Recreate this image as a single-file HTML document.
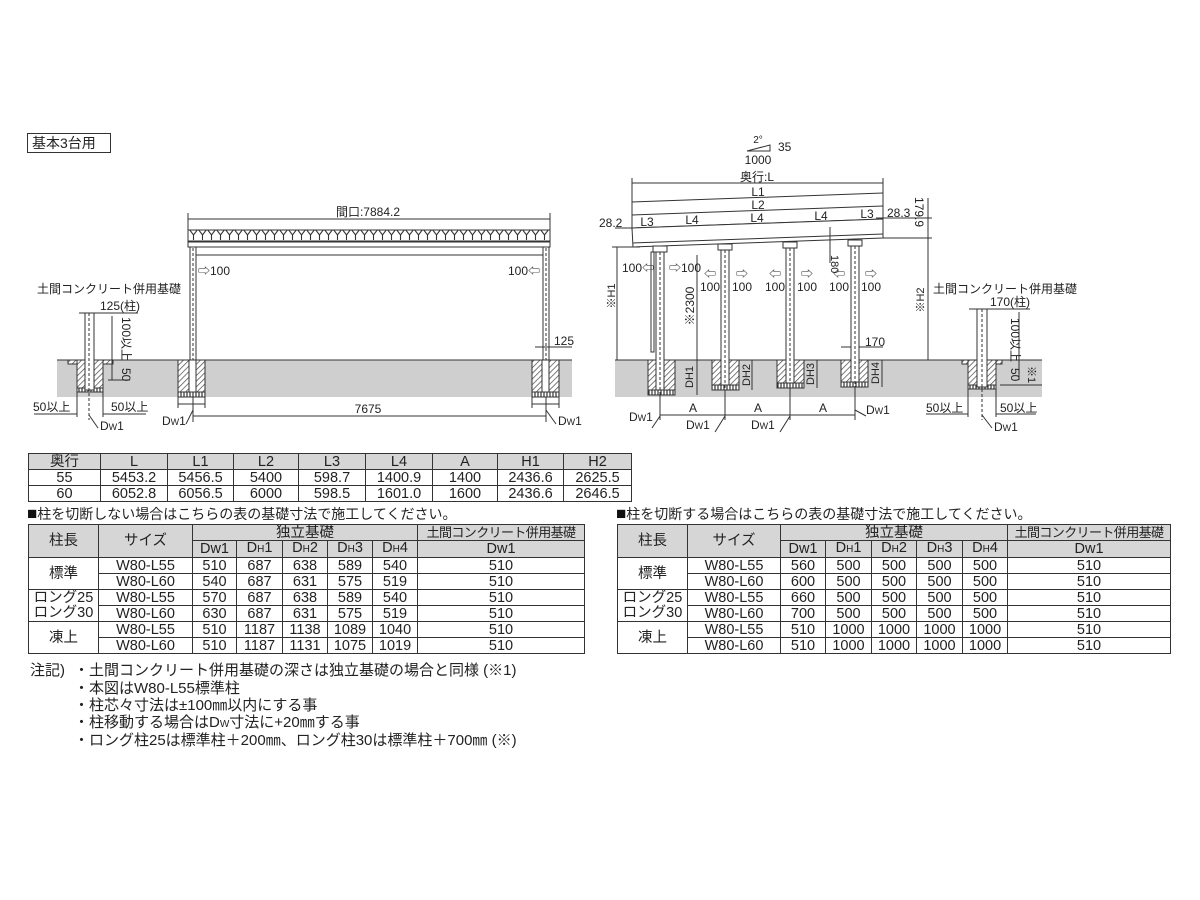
<!DOCTYPE html>
<html><head><meta charset="utf-8">
<style>
*{margin:0;padding:0;box-sizing:border-box}
body{width:1200px;height:900px;background:#fff;position:relative;overflow:hidden;font-family:"Liberation Sans","Noto Sans CJK JP",sans-serif;color:#222}
svg{position:absolute;left:0;top:0}
table{position:absolute;border-collapse:collapse;table-layout:fixed;font-size:14.5px;text-align:center}
td{border:1px solid #333;padding:0;line-height:14px;height:16px;white-space:nowrap;overflow:hidden}
.h{background:#d6d6d6}
.dm{font-size:13px;letter-spacing:-0.6px}
small{font-size:10px}
.t{position:absolute;font-size:14px;white-space:nowrap;line-height:16px}
.n{position:absolute;font-size:15px;white-space:nowrap;line-height:17px}
.sq{font-size:17px;color:#111}
</style></head><body>
<svg width="1200" height="900" font-family="Liberation Sans, Noto Sans CJK JP, sans-serif" font-size="12" fill="#222">
<defs>
<pattern id="hat" width="4" height="4" patternUnits="userSpaceOnUse" patternTransform="rotate(45)"><rect width="4" height="4" fill="#fff"/><line x1="0" y1="0" x2="0" y2="4" stroke="#444" stroke-width="1.4"/></pattern>
<pattern id="zig" width="9" height="12" patternUnits="userSpaceOnUse"><rect width="9" height="12" fill="#fff"/><path d="M0 1 L4.5 7 L9 1 M4.5 7 V12 M0 1H9" stroke="#333" stroke-width="1.1" fill="none"/></pattern>
<pattern id="grv" width="3" height="5" patternUnits="userSpaceOnUse"><rect width="3" height="5" fill="#fff"/><line x1="1" y1="0" x2="1" y2="5" stroke="#333" stroke-width="1.2"/></pattern>
</defs>
<rect x="27.5" y="133.5" width="83" height="19" fill="none" stroke="#333"/>
<text x="32" y="148" font-size="14">基本3台用</text>

<rect x="57" y="360" width="515" height="37" fill="#cfcfcf"/>
<rect x="615" y="360" width="427" height="37" fill="#cfcfcf"/>
<g stroke="#333" fill="none" stroke-width="1">
<line x1="57" y1="360" x2="572" y2="360"/>
<line x1="615" y1="360" x2="1042" y2="360"/>
</g>

<!-- LEFT ELEVATION -->
<g stroke="#333" stroke-width="1" fill="none">
<line x1="188" y1="219" x2="550" y2="219"/><line x1="188" y1="213" x2="188" y2="232"/><line x1="550" y1="213" x2="550" y2="232"/>
<rect x="188" y="230" width="362" height="12" fill="url(#zig)"/>
<rect x="188" y="242" width="362" height="5" fill="#fff"/>
<line x1="193" y1="255" x2="546" y2="255"/>
<rect x="190" y="247" width="6" height="113" fill="#fff"/>
<rect x="543" y="247" width="6" height="113" fill="#fff"/>
<line x1="193" y1="248" x2="193" y2="360" stroke-dasharray="3,2"/>
<line x1="546" y1="248" x2="546" y2="360" stroke-dasharray="3,2"/>
<rect x="178" y="360" width="27" height="32" fill="url(#hat)"/>
<rect x="532" y="360" width="27" height="32" fill="url(#hat)"/>
<rect x="178" y="392" width="27" height="5" fill="url(#grv)"/>
<rect x="532" y="392" width="27" height="5" fill="url(#grv)"/>
<rect x="189" y="360" width="7" height="32" fill="#fff"/>
<rect x="542" y="360" width="7" height="32" fill="#fff"/>
<line x1="535" y1="347" x2="572" y2="347"/>
<line x1="178" y1="397" x2="178" y2="408"/><line x1="205" y1="397" x2="205" y2="408"/><line x1="178" y1="404" x2="205" y2="404"/>
<line x1="532" y1="397" x2="532" y2="408"/><line x1="559" y1="397" x2="559" y2="408"/><line x1="532" y1="404" x2="559" y2="404"/>
<line x1="193" y1="397" x2="193" y2="422"/><line x1="546" y1="397" x2="546" y2="422"/>
<line x1="193" y1="416" x2="546" y2="416"/>
<line x1="193" y1="410" x2="186" y2="424"/><line x1="546" y1="410" x2="556" y2="424"/>
</g>
<text x="368" y="216" text-anchor="middle">間口:7884.2</text>
<text x="198" y="275">⇨100</text>
<text x="540" y="275" text-anchor="end">100⇦</text>
<text x="554" y="345">125</text>
<text x="368" y="413" text-anchor="middle">7675</text>
<text x="162" y="425">D<tspan font-size="9">W</tspan>1</text>
<text x="558" y="425">D<tspan font-size="9">W</tspan>1</text>

<text x="37" y="293">土間コンクリート併用基礎</text>
<text x="100" y="310">125(柱)</text>
<g stroke="#333" fill="none">
<line x1="79" y1="313" x2="138" y2="313"/>
<rect x="68" y="360" width="45" height="4" fill="url(#hat)"/>
<rect x="77" y="360" width="26" height="30" fill="url(#hat)"/>
<rect x="77" y="388" width="26" height="4" fill="url(#grv)"/>
<rect x="85" y="313" width="9" height="77" fill="#fff"/>
<line x1="89" y1="313" x2="89" y2="420" stroke-dasharray="3,2"/>
<line x1="112" y1="316" x2="112" y2="380"/>
<line x1="108" y1="380" x2="130" y2="380"/>
<line x1="77" y1="390" x2="77" y2="417"/><line x1="103" y1="390" x2="103" y2="417"/>
<line x1="34" y1="414" x2="77" y2="414"/><line x1="103" y1="414" x2="146" y2="414"/>
<line x1="89" y1="415" x2="98" y2="428"/>
</g>
<text transform="translate(122,317) rotate(90)">100以上</text>
<text transform="translate(122,368) rotate(90)">50</text>
<text x="33" y="411">50以上</text>
<text x="111" y="411">50以上</text>
<text x="100" y="430">D<tspan font-size="9">W</tspan>1</text>

<!-- RIGHT ELEVATION -->
<text x="758" y="143" text-anchor="middle" font-size="10">2°</text>
<g stroke="#333" fill="none">
<path d="M747 151 L770 145 V151 Z"/>
<line x1="632" y1="183" x2="883" y2="183"/><line x1="632" y1="178" x2="632" y2="230"/><line x1="883" y1="178" x2="883" y2="218"/>
<line x1="632" y1="202" x2="883" y2="193"/>
<line x1="632" y1="215" x2="883" y2="206"/>
<line x1="632" y1="228" x2="883" y2="219"/>
<polygon points="632,228 883,219 883,238 633,247" fill="#fff"/>
<line x1="633" y1="243" x2="883" y2="234"/>
<line x1="876" y1="218" x2="932" y2="218"/><line x1="883" y1="238" x2="932" y2="238"/>
<line x1="928" y1="198" x2="928" y2="360"/>
<line x1="617" y1="247" x2="617" y2="360"/><line x1="612" y1="247" x2="640" y2="247"/>
<line x1="697" y1="255" x2="697" y2="395"/>
<line x1="830" y1="227" x2="830" y2="263"/>
<line x1="841" y1="347" x2="883" y2="347"/>
<line x1="660" y1="415" x2="855" y2="415"/>
<line x1="660" y1="395" x2="660" y2="420"/><line x1="725" y1="390" x2="725" y2="420"/><line x1="790" y1="388" x2="790" y2="420"/><line x1="855" y1="387" x2="855" y2="420"/>
<line x1="660" y1="416" x2="652" y2="428"/><line x1="725" y1="416" x2="715" y2="432"/><line x1="790" y1="416" x2="780" y2="432"/><line x1="855" y1="410" x2="866" y2="416"/>
<line x1="615" y1="228" x2="632" y2="228"/>
<line x1="752" y1="360" x2="752" y2="390"/><line x1="817" y1="360" x2="817" y2="388"/><line x1="882" y1="360" x2="882" y2="387"/>
</g>
<g stroke="#333" fill="#fff">
<rect x="648" y="360" width="27" height="30" fill="url(#hat)"/><rect x="648" y="390" width="27" height="5" fill="url(#grv)"/>
<rect x="712" y="360" width="27" height="25" fill="url(#hat)"/><rect x="712" y="385" width="27" height="5" fill="url(#grv)"/>
<rect x="777" y="360" width="27" height="23" fill="url(#hat)"/><rect x="777" y="383" width="27" height="5" fill="url(#grv)"/>
<rect x="841" y="360" width="27" height="22" fill="url(#hat)"/><rect x="841" y="382" width="27" height="5" fill="url(#grv)"/>
<rect x="656" y="247" width="8" height="143"/>
<rect x="721" y="245" width="8" height="140"/>
<rect x="786" y="243" width="8" height="140"/>
<rect x="851" y="241" width="8" height="141"/>
<rect x="653" y="246" width="14" height="6"/><rect x="718" y="244" width="14" height="6"/><rect x="783" y="242" width="14" height="6"/><rect x="848" y="240" width="14" height="6"/>
<rect x="651" y="252" width="3" height="100"/>
</g>
<g stroke="#333" stroke-dasharray="3,2"><line x1="660" y1="252" x2="660" y2="395"/><line x1="725" y1="250" x2="725" y2="390"/><line x1="790" y1="248" x2="790" y2="388"/><line x1="855" y1="246" x2="855" y2="387"/></g>
<text x="778" y="151">35</text>
<text x="758" y="164" text-anchor="middle">1000</text>
<text x="757" y="181" text-anchor="middle">奥行:L</text>
<text x="758" y="196" text-anchor="middle">L1</text>
<text x="758" y="209" text-anchor="middle">L2</text>
<text x="647" y="226" text-anchor="middle">L3</text>
<text x="692" y="224" text-anchor="middle">L4</text>
<text x="757" y="222" text-anchor="middle">L4</text>
<text x="821" y="220" text-anchor="middle">L4</text>
<text x="867" y="218" text-anchor="middle">L3</text>
<text x="599" y="227">28.2</text>
<text x="887" y="217">28.3</text>
<text transform="translate(915,197) rotate(90)">179.9</text>
<text transform="translate(615,296) rotate(-90)" text-anchor="middle" font-size="11">※H1</text>
<text transform="translate(924,300) rotate(-90)" text-anchor="middle" font-size="11">※H2</text>
<text transform="translate(694,306) rotate(-90)" text-anchor="middle">※2300</text>
<text transform="translate(831,255) rotate(90)" font-size="11">180</text>
<text x="622" y="272">100⇦</text>
<text x="669" y="272">⇨100</text>
<g font-size="12"><text x="710" y="278" text-anchor="middle">⇦</text><text x="742" y="278" text-anchor="middle">⇨</text>
<text x="775" y="278" text-anchor="middle">⇦</text><text x="807" y="278" text-anchor="middle">⇨</text>
<text x="839" y="278" text-anchor="middle">⇦</text><text x="871" y="278" text-anchor="middle">⇨</text>
<text x="710" y="291" text-anchor="middle">100</text><text x="742" y="291" text-anchor="middle">100</text>
<text x="775" y="291" text-anchor="middle">100</text><text x="807" y="291" text-anchor="middle">100</text>
<text x="839" y="291" text-anchor="middle">100</text><text x="871" y="291" text-anchor="middle">100</text></g>
<text x="865" y="346">170</text>
<text transform="translate(693,377) rotate(-90)" text-anchor="middle" font-size="11">DH1</text>
<text transform="translate(750,375) rotate(-90)" text-anchor="middle" font-size="11">DH2</text>
<text transform="translate(814,374) rotate(-90)" text-anchor="middle" font-size="11">DH3</text>
<text transform="translate(879,373) rotate(-90)" text-anchor="middle" font-size="11">DH4</text>
<text x="693" y="412" text-anchor="middle">A</text><text x="758" y="412" text-anchor="middle">A</text><text x="823" y="412" text-anchor="middle">A</text>
<text x="629" y="421">D<tspan font-size="9">W</tspan>1</text>
<text x="686" y="429">D<tspan font-size="9">W</tspan>1</text>
<text x="751" y="429">D<tspan font-size="9">W</tspan>1</text>
<text x="866" y="414">D<tspan font-size="9">W</tspan>1</text>

<text x="933" y="293">土間コンクリート併用基礎</text>
<text x="990" y="306">170(柱)</text>
<g stroke="#333" fill="none">
<line x1="969" y1="309" x2="1030" y2="309"/>
<rect x="962" y="360" width="40" height="4" fill="url(#hat)"/>
<rect x="968" y="360" width="28" height="27" fill="url(#hat)"/>
<rect x="968" y="385" width="28" height="4" fill="url(#grv)"/>
<rect x="977" y="309" width="10" height="78" fill="#fff"/>
<line x1="982" y1="309" x2="982" y2="420" stroke-dasharray="3,2"/>
<line x1="1019" y1="312" x2="1019" y2="380"/>
<line x1="1000" y1="385" x2="1042" y2="385"/>
<line x1="968" y1="389" x2="968" y2="417"/><line x1="996" y1="389" x2="996" y2="417"/>
<line x1="926" y1="414" x2="968" y2="414"/><line x1="996" y1="414" x2="1036" y2="414"/>
<line x1="982" y1="415" x2="992" y2="428"/>
</g>
<text transform="translate(1011,318) rotate(90)">100以上</text>
<text transform="translate(1011,368) rotate(90)">50</text>
<text transform="translate(1028,366) rotate(90)" font-size="11">※1</text>
<text x="926" y="412">50以上</text>
<text x="1000" y="412">50以上</text>
<text x="994" y="431">D<tspan font-size="9">W</tspan>1</text>
</svg>

<table style="left:28px;top:453px;width:603px">
<colgroup><col style="width:72px"><col style="width:67px"><col style="width:66px"><col style="width:65px"><col style="width:67px"><col style="width:67px"><col style="width:65px"><col style="width:66px"><col style="width:68px"></colgroup>
<tr class="h"><td>奥行</td><td>L</td><td>L1</td><td>L2</td><td>L3</td><td>L4</td><td>A</td><td>H1</td><td>H2</td></tr>
<tr><td>55</td><td>5453.2</td><td>5456.5</td><td>5400</td><td>598.7</td><td>1400.9</td><td>1400</td><td>2436.6</td><td>2625.5</td></tr>
<tr><td>60</td><td>6052.8</td><td>6056.5</td><td>6000</td><td>598.5</td><td>1601.0</td><td>1600</td><td>2436.6</td><td>2646.5</td></tr>
</table>

<div class="t" style="left:27px;top:506px"><span class="sq">■</span>柱を切断しない場合はこちらの表の基礎寸法で施工してください。</div>
<div class="t" style="left:616px;top:506px"><span class="sq">■</span>柱を切断する場合はこちらの表の基礎寸法で施工してください。</div>

<table style="left:28px;top:524px;width:556px">
<colgroup><col style="width:70px"><col style="width:94px"><col style="width:44px"><col style="width:46px"><col style="width:45px"><col style="width:45px"><col style="width:45px"><col style="width:167px"></colgroup>
<tr class="h"><td rowspan="2">柱長</td><td rowspan="2">サイズ</td><td colspan="5">独立基礎</td><td class="dm">土間コンクリート併用基礎</td></tr>
<tr class="h"><td>Dw1</td><td>D<small>H</small>1</td><td>D<small>H</small>2</td><td>D<small>H</small>3</td><td>D<small>H</small>4</td><td>Dw1</td></tr>
<tr><td rowspan="2">標準</td><td>W80-L55</td><td>510</td><td>687</td><td>638</td><td>589</td><td>540</td><td>510</td></tr>
<tr><td>W80-L60</td><td>540</td><td>687</td><td>631</td><td>575</td><td>519</td><td>510</td></tr>
<tr><td rowspan="2" style="line-height:15px">ロング25<br>ロング30</td><td>W80-L55</td><td>570</td><td>687</td><td>638</td><td>589</td><td>540</td><td>510</td></tr>
<tr><td>W80-L60</td><td>630</td><td>687</td><td>631</td><td>575</td><td>519</td><td>510</td></tr>
<tr><td rowspan="2">凍上</td><td>W80-L55</td><td>510</td><td>1187</td><td>1138</td><td>1089</td><td>1040</td><td>510</td></tr>
<tr><td>W80-L60</td><td>510</td><td>1187</td><td>1131</td><td>1075</td><td>1019</td><td>510</td></tr>
</table>

<table style="left:617px;top:524px;width:553px">
<colgroup><col style="width:70px"><col style="width:93px"><col style="width:45px"><col style="width:46px"><col style="width:45px"><col style="width:46px"><col style="width:45px"><col style="width:163px"></colgroup>
<tr class="h"><td rowspan="2">柱長</td><td rowspan="2">サイズ</td><td colspan="5">独立基礎</td><td class="dm">土間コンクリート併用基礎</td></tr>
<tr class="h"><td>Dw1</td><td>D<small>H</small>1</td><td>D<small>H</small>2</td><td>D<small>H</small>3</td><td>D<small>H</small>4</td><td>Dw1</td></tr>
<tr><td rowspan="2">標準</td><td>W80-L55</td><td>560</td><td>500</td><td>500</td><td>500</td><td>500</td><td>510</td></tr>
<tr><td>W80-L60</td><td>600</td><td>500</td><td>500</td><td>500</td><td>500</td><td>510</td></tr>
<tr><td rowspan="2" style="line-height:15px">ロング25<br>ロング30</td><td>W80-L55</td><td>660</td><td>500</td><td>500</td><td>500</td><td>500</td><td>510</td></tr>
<tr><td>W80-L60</td><td>700</td><td>500</td><td>500</td><td>500</td><td>500</td><td>510</td></tr>
<tr><td rowspan="2">凍上</td><td>W80-L55</td><td>510</td><td>1000</td><td>1000</td><td>1000</td><td>1000</td><td>510</td></tr>
<tr><td>W80-L60</td><td>510</td><td>1000</td><td>1000</td><td>1000</td><td>1000</td><td>510</td></tr>
</table>

<div class="n" style="left:30px;top:662px">注記)</div>
<div class="n" style="left:74px;top:662px">・土間コンクリート併用基礎の深さは独立基礎の場合と同様 (※1)</div>
<div class="n" style="left:74px;top:680px">・本図はW80-L55標準柱</div>
<div class="n" style="left:74px;top:697px">・柱芯々寸法は±100㎜以内にする事</div>
<div class="n" style="left:74px;top:714px">・柱移動する場合はD<small>W</small>寸法に+20㎜する事</div>
<div class="n" style="left:74px;top:732px">・ロング柱25は標準柱＋200㎜、ロング柱30は標準柱＋700㎜ (※)</div>
</body></html>
